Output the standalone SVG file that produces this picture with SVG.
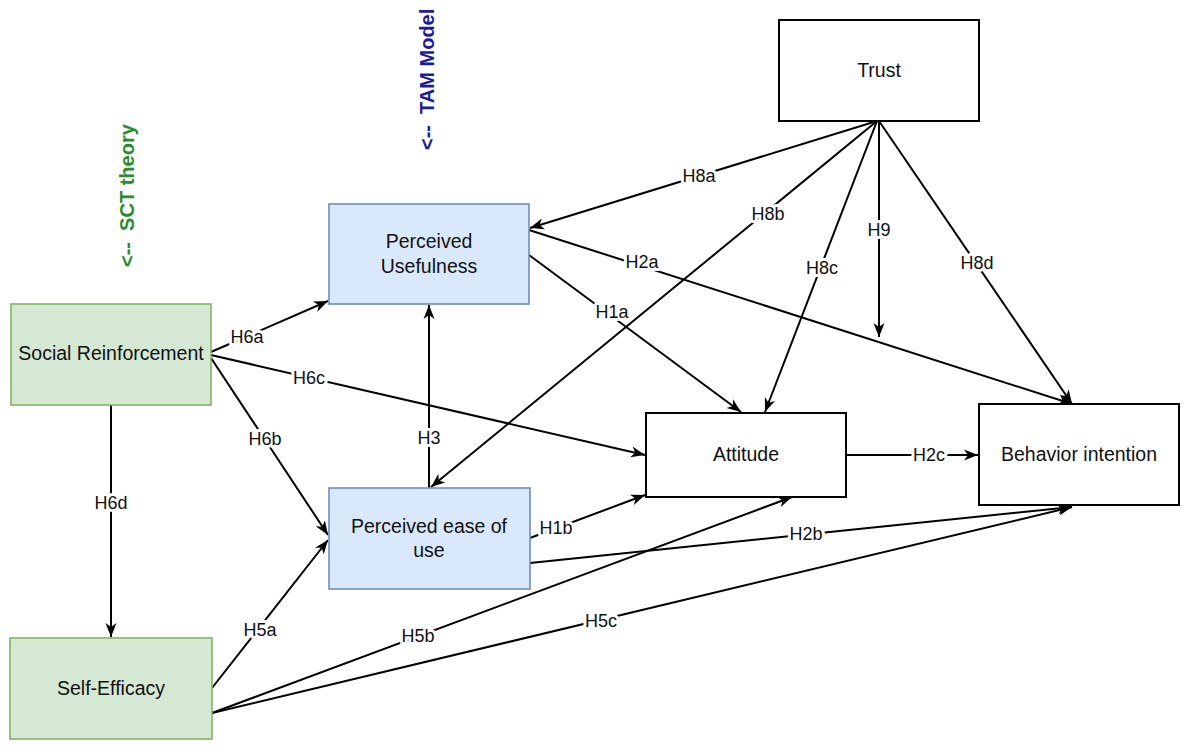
<svg xmlns="http://www.w3.org/2000/svg" width="1188" height="746" viewBox="0 0 1188 746">
<defs>
<marker id="arr" markerUnits="userSpaceOnUse" markerWidth="16" markerHeight="12" refX="14" refY="6" orient="auto">
<path d="M0,0.5 L14,6 L0,11.5 L4,6 z" fill="#000"/>
</marker>
<style>
.node-w{fill:#fff;stroke:#000;stroke-width:2}
.node-b{fill:#dae8fc;stroke:#6c8ebf;stroke-width:1.6}
.node-g{fill:#d5e8d4;stroke:#82b366;stroke-width:1.6}
.nt{font-family:"Liberation Sans",Arial,sans-serif;font-size:19.5px;fill:#111;text-anchor:middle}
.edge{stroke:#000;stroke-width:2;fill:none;marker-end:url(#arr)}
.lbl{font-family:"Liberation Sans",Arial,sans-serif;font-size:18px;fill:#111;text-anchor:middle;dominant-baseline:central;stroke:#fff;stroke-width:6;paint-order:stroke;stroke-linejoin:round}
.rot{font-family:"Liberation Sans",Arial,sans-serif;font-size:20px;font-weight:bold;white-space:pre}
</style>
</defs>
<rect width="1188" height="746" fill="#fff"/>

<g id="connectors">
<line class="edge" x1="211" y1="352" x2="328" y2="301"/>
<line class="edge" x1="211" y1="355" x2="645" y2="455"/>
<line class="edge" x1="211" y1="358" x2="328" y2="535"/>
<line class="edge" x1="111" y1="405" x2="111" y2="637"/>
<line class="edge" x1="429" y1="488" x2="429" y2="305"/>
<line class="edge" x1="212" y1="688" x2="328" y2="540"/>
<line class="edge" x1="212" y1="713" x2="792" y2="497"/>
<line class="edge" x1="212" y1="713" x2="1072" y2="507"/>
<line class="edge" x1="530" y1="538" x2="645" y2="495"/>
<line class="edge" x1="530" y1="563" x2="1072" y2="507"/>
<line class="edge" x1="529" y1="255" x2="741" y2="412"/>
<line class="edge" x1="529" y1="230" x2="1072" y2="404"/>
<line class="edge" x1="877" y1="121" x2="530" y2="228"/>
<line class="edge" x1="877" y1="121" x2="431" y2="487"/>
<line class="edge" x1="877" y1="121" x2="765" y2="412"/>
<line class="edge" x1="879" y1="121" x2="879" y2="337"/>
<line class="edge" x1="879" y1="121" x2="1072" y2="404"/>
<line class="edge" x1="846" y1="455" x2="978" y2="455"/>
<text class="lbl" x="247" y="337">H6a</text>
<text class="lbl" x="309" y="378">H6c</text>
<text class="lbl" x="265" y="439">H6b</text>
<text class="lbl" x="111" y="503">H6d</text>
<text class="lbl" x="429" y="438">H3</text>
<text class="lbl" x="260" y="630">H5a</text>
<text class="lbl" x="418" y="636">H5b</text>
<text class="lbl" x="601" y="621">H5c</text>
<text class="lbl" x="556" y="528">H1b</text>
<text class="lbl" x="806" y="534">H2b</text>
<text class="lbl" x="612" y="312">H1a</text>
<text class="lbl" x="642" y="262">H2a</text>
<text class="lbl" x="699" y="176">H8a</text>
<text class="lbl" x="768" y="214">H8b</text>
<text class="lbl" x="822" y="268">H8c</text>
<text class="lbl" x="879" y="230">H9</text>
<text class="lbl" x="977" y="263">H8d</text>
<text class="lbl" x="929" y="455">H2c</text>
</g>

<g id="trust">
<rect class="node-w" x="779" y="20" width="200" height="101"/>
<text class="nt" x="879" y="77">Trust</text>
</g>
<g id="perceived-usefulness">
<rect class="node-b" x="329" y="204" width="200" height="100"/>
<text class="nt" x="429" y="248">Perceived</text>
<text class="nt" x="429" y="273">Usefulness</text>
</g>
<g id="social-reinforcement">
<rect class="node-g" x="11" y="304" width="200" height="101"/>
<text class="nt" x="111" y="360">Social Reinforcement</text>
</g>
<g id="attitude">
<rect class="node-w" x="646" y="413" width="200" height="84"/>
<text class="nt" x="746" y="461">Attitude</text>
</g>
<g id="behavior-intention">
<rect class="node-w" x="979" y="404" width="200" height="101"/>
<text class="nt" x="1079" y="461">Behavior intention</text>
</g>
<g id="perceived-ease-of-use">
<rect class="node-b" x="329" y="488" width="201" height="101"/>
<text class="nt" x="429" y="533">Perceived ease of</text>
<text class="nt" x="429" y="557">use</text>
</g>
<g id="self-efficacy">
<rect class="node-g" x="10" y="638" width="202" height="101"/>
<text class="nt" x="111" y="695">Self-Efficacy</text>
</g>

<g id="sct-theory">
<text class="rot" transform="translate(134,267) rotate(-90)" fill="#2b8a2b">&lt;--  SCT theory</text>
</g>
<g id="tam-model">
<text class="rot" transform="translate(434,150) rotate(-90)" fill="#1c1c96">&lt;--  TAM Model</text>
</g>
</svg>
